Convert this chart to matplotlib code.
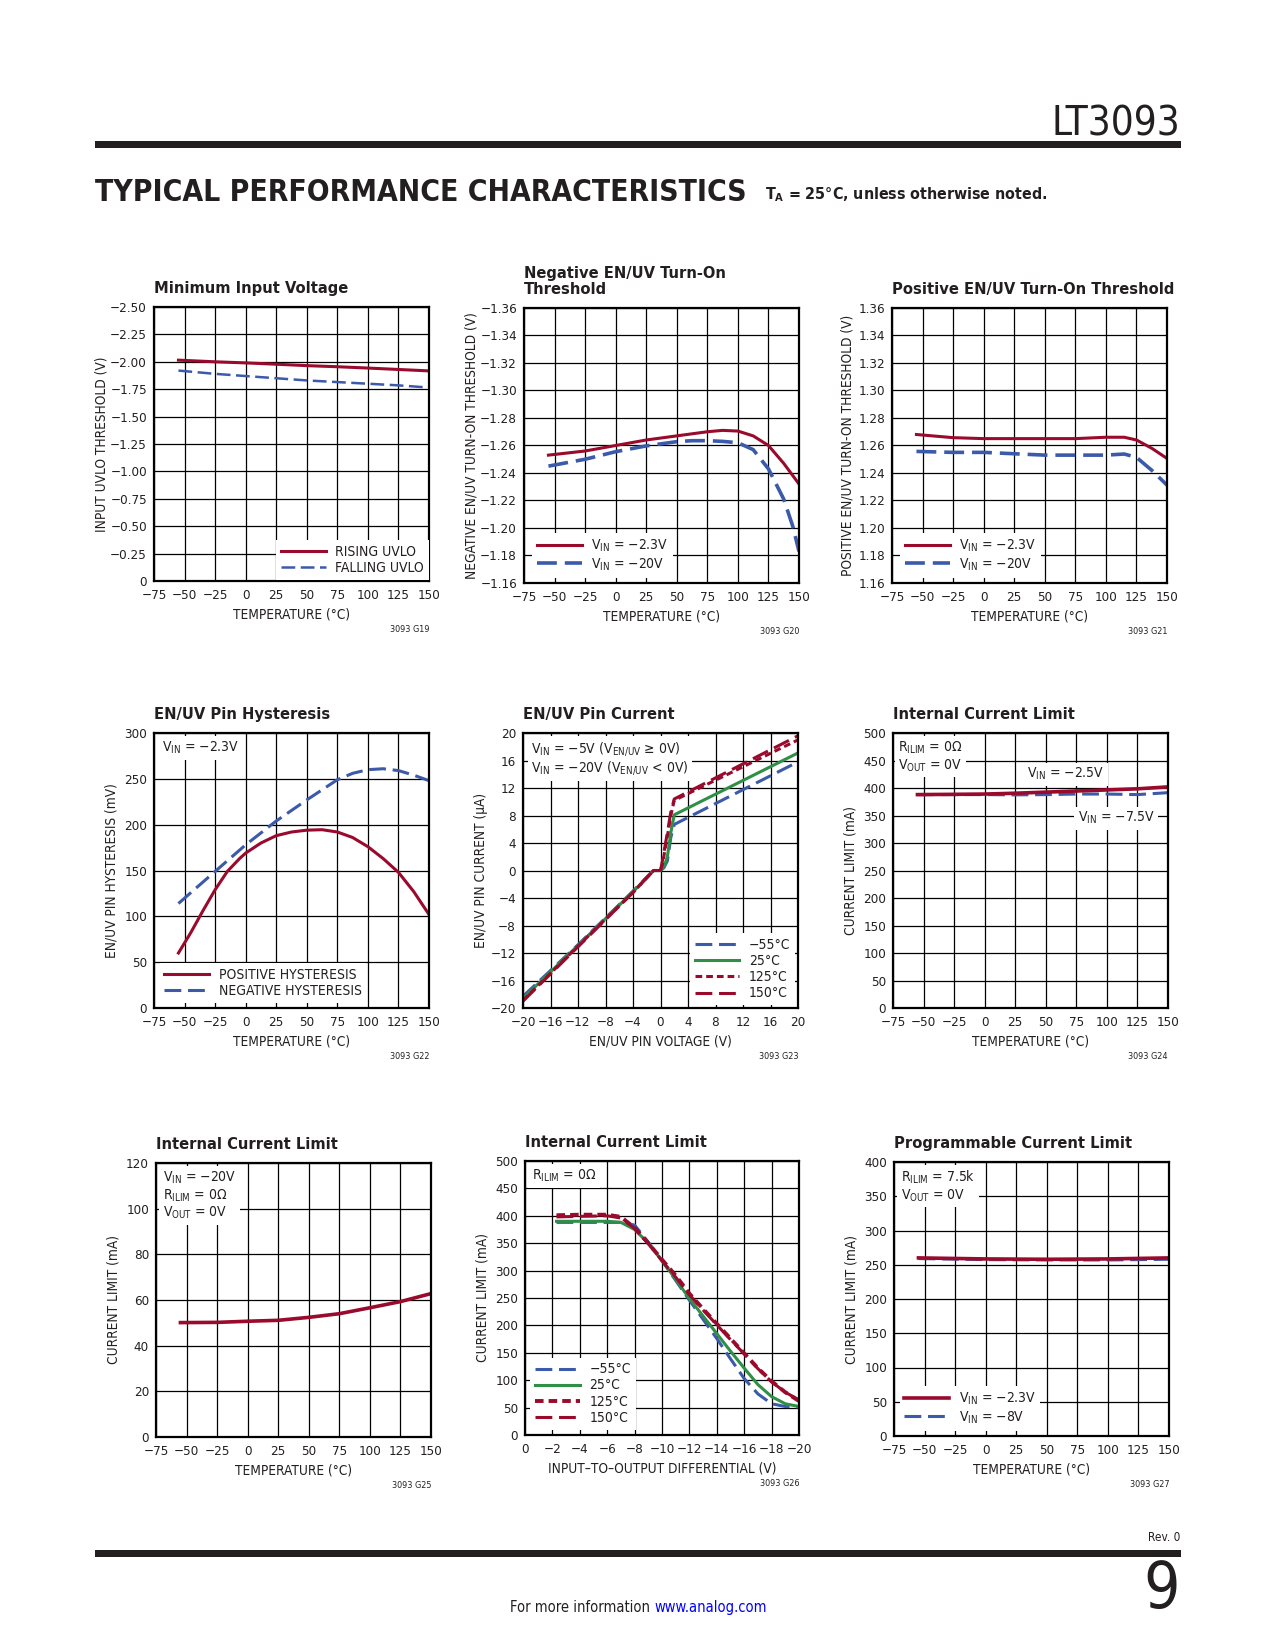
import os
import numpy as np
import matplotlib
matplotlib.use('Agg')
import matplotlib.pyplot as plt
from matplotlib import font_manager as fm
from matplotlib.patches import Rectangle

# ---- data ----
temp_ticks = [-75, -50, -25, 0, 25, 50, 75, 100, 125, 150]

# G19 minimum input voltage
uvlo_t = [-55, -25, 0, 25, 50, 75, 100, 125, 150]
uvlo_rising = [-2.015, -2.00, -1.99, -1.978, -1.965, -1.955, -1.943, -1.93, -1.917]
uvlo_falling = [-1.92, -1.89, -1.87, -1.85, -1.83, -1.815, -1.80, -1.785, -1.765]

# G20 negative EN/UV threshold
neg_t1 = [-55, -25, 0, 25, 50, 75, 87.5, 100, 112.5, 125, 137.5, 150]
neg_vin23 = [-1.253, -1.256, -1.260, -1.264, -1.267, -1.270, -1.271, -1.2705, -1.267, -1.260, -1.247, -1.232]
neg_t2 = [-55, -25, 0, 25, 50, 62.5, 75, 87.5, 100, 112.5, 125, 137.5, 145, 150]
neg_vin20 = [-1.245, -1.250, -1.2555, -1.2597, -1.2628, -1.2635, -1.2635, -1.263, -1.262, -1.257, -1.243, -1.221, -1.201, -1.183]

# G21 positive EN/UV threshold
pos_t = [-55, -25, 0, 25, 50, 75, 100, 115, 125, 137.5, 150]
pos_vin23 = [1.268, 1.2657, 1.265, 1.265, 1.265, 1.265, 1.266, 1.266, 1.264, 1.258, 1.2506]
pos_vin20 = [1.2557, 1.255, 1.255, 1.254, 1.253, 1.253, 1.253, 1.2538, 1.2514, 1.242, 1.2312]

# G22 hysteresis
hys_t1 = [-55, -45, -35, -25, -15, -5, 0, 12.5, 25, 37.5, 50, 62.5, 75, 87.5, 100, 112.5, 125, 137.5, 150]
hys_pos = [60, 82, 106, 129, 149, 163, 169, 180, 188, 192, 194, 194.5, 192, 186, 176, 163, 148, 127, 102]
hys_t2 = [-55, -25, 0, 25, 50, 75, 87.5, 100, 112.5, 125, 137.5, 150]
hys_neg = [114, 149, 178, 204, 227, 249, 256, 260, 261, 259, 254, 248]

# G23 EN/UV pin current
pin_v = [-20, -12, -4, -1, 0, 0.5, 1, 1.5, 2, 20]
pin_v_hot = [-20, -12, -4, -1, 0, 0.3, 1, 1.5, 2, 20]
pin_m55 = [-18.3, -10.8, -3.0, 0.05, 0, 0.4, 1.4, 4.8, 6.7, 15.8]
pin_25 = [-18.6, -10.9, -3.1, 0, 0, 0.5, 2.0, 5.5, 8.1, 17.1]
pin_125 = [-18.9, -11.0, -3.2, 0, 0, 1.0, 5.0, 8.0, 10.2, 19.0]
pin_150 = [-19.0, -11.1, -3.2, 0, 0, 1.5, 5.5, 8.5, 10.4, 19.6]

# G24 internal current limit vs temperature
ilim_t = [-55, -25, 0, 25, 50, 75, 100, 125, 150]
ilim_vin25 = [388, 388.5, 389, 390.5, 392.5, 394.5, 396.5, 398.5, 402]
ilim_vin75 = [388, 388, 388, 387.5, 388, 389, 389, 388, 391.5]

# G25 internal current limit, VIN = -20V
ilim20_t = [-55, -25, 0, 25, 50, 75, 100, 125, 150]
ilim20 = [50.1, 50.2, 50.7, 51.1, 52.4, 54.0, 56.6, 59.3, 62.8]

# G26 current limit vs input-output differential
dif_v = [-2.3, -4, -6, -7, -8, -9, -10, -11, -12, -13, -14, -15, -16, -17, -18, -19, -20]
dif_m55 = [388, 388, 388, 388, 383, 352, 318, 282, 246, 211, 176, 139, 103, 75, 57, 52, 51]
dif_25 = [390, 390, 390, 388, 375, 350, 318, 284, 249, 217, 185, 153, 122, 92, 70, 57, 52]
dif_125 = [401, 402, 402, 398, 378, 350, 320, 291, 258, 230, 203, 176, 149, 122, 98, 78, 62]
dif_150 = [398, 399, 400, 396, 377, 349, 318, 288, 256, 228, 201, 174, 148, 121, 97, 78, 64]

# G27 programmable current limit
prog_t = [-55, 0, 50, 100, 150]
prog_vin23 = [260, 258.5, 258, 258.5, 260]
prog_vin8 = [259, 257.5, 257, 257, 258]

RED = '#990a2c'
BLUE = '#3c5aaa'
GREEN = '#2f8f47'
INK = '#231f20'

# look for a narrow / condensed sans face (datasheet uses a condensed Helvetica)
found = {}
for f in fm.fontManager.ttflist:
    key = (f.name + ' ' + os.path.basename(f.fname)).lower()
    if 'sans' not in key or 'mono' in key or 'oblique' in key or 'italic' in key:
        continue
    if not ('narrow' in key or 'condensed' in key or str(f.stretch).lower() in ('condensed', 'semi-condensed')):
        continue
    kind = 'bold' if 'bold' in key else 'reg'
    rank = 0 if 'liberation' in key else 1
    if kind not in found or rank < found[kind][0]:
        found[kind] = (rank, f.fname)

COND = 'reg' in found
if COND:
    fm.fontManager.ttflist.append(fm.FontEntry(fname=found['reg'][1], name='PageCond', style='normal',
                                               variant='normal', weight=400, stretch='normal',
                                               size='scalable'))
    if 'bold' in found:
        fm.fontManager.ttflist.append(fm.FontEntry(fname=found['bold'][1], name='PageCond', style='normal',
                                                   variant='normal', weight=700, stretch='normal',
                                                   size='scalable'))
    FAM = 'PageCond'
else:
    FAM = 'Liberation Sans'

S = dict(tick=9.6, lab=9.8, title=11.8, leg=10, head=21.5, ta=11.4, foot=10.5) if COND else \
    dict(tick=10, lab=10, title=12.8, leg=10, head=21, ta=12.5, foot=10.6)

plt.rcParams['font.family'] = [FAM, 'DejaVu Sans']
plt.rcParams['mathtext.default'] = 'regular'

W, H = 1275, 1650
fig = plt.figure(figsize=(W / 100, H / 100), dpi=100)


def px_axes(l, t, r, b):
    return fig.add_axes([l / W, 1 - b / H, (r - l) / W, (b - t) / H])


def fmt_num(v, nd):
    if abs(v) < 1e-9:
        return '0'
    return f'{v:.{nd}f}'.replace('-', '\u2212')


def setup(ax, xlim, ylim, xticks, yticks, xdec, ydec, xlabel, ylabel, title, code, ylab_x):
    ax.set_xlim(*xlim)
    ax.set_ylim(*ylim)
    ax.set_xticks(xticks)
    ax.set_yticks(yticks)
    ax.set_xticklabels([fmt_num(v, xdec) for v in xticks])
    ax.set_yticklabels([fmt_num(v, ydec) for v in yticks])
    ax.grid(True, color='black', lw=0.9)
    ax.tick_params(length=0, labelsize=S['tick'], colors=INK)
    ax.tick_params(axis='x', pad=6)
    ax.tick_params(axis='y', pad=5)
    for sp in ax.spines.values():
        sp.set_linewidth(1.6)
    ax.set_xlabel(xlabel, fontsize=S['lab'], color=INK)
    ax.set_ylabel(ylabel, fontsize=S['lab'], color=INK)
    ax.xaxis.set_label_coords(0.5, -0.095)
    ax.yaxis.set_label_coords(ylab_x, 0.5)
    ax.text(0, 1.04, title, transform=ax.transAxes, fontsize=S['title'], fontweight='bold',
            ha='left', va='bottom', linespacing=1.05, color=INK)
    ax.text(1, -0.178, code, transform=ax.transAxes, fontsize=6.5, ha='right', va='center', color=INK)


def leg(ax, loc, anchor, handles=None, labels=None):
    if handles is None:
        handles, labels = ax.get_legend_handles_labels()
    lg = ax.legend(handles, labels, loc=loc, bbox_to_anchor=anchor, fontsize=S['leg'], handlelength=3.2,
                   handletextpad=0.7, labelspacing=0.15, borderpad=0.35, borderaxespad=0,
                   frameon=True, fancybox=False, framealpha=1)
    lg.get_frame().set_linewidth(0)
    for t in lg.get_texts():
        t.set_color(INK)
    return lg


def note(ax, x, y, s, coords='axes'):
    tr = ax.transAxes if coords == 'axes' else ax.transData
    ax.text(x, y, s, transform=tr, fontsize=S['leg'], ha='left', va='top', linespacing=1.1,
            color=INK, bbox=dict(fc='white', ec='none', pad=2.5), zorder=4)


LW = 2.2
DASH = (5.5, 2.2)
SHORT = (2.2, 1.3)
TEMP = 'TEMPERATURE (\u00b0C)'

# ---- row 1 ----
ax = px_axes(154, 307, 429, 581)
setup(ax, (-75, 150), (0, -2.5), temp_ticks, np.arange(0, -2.51, -0.25), 0, 2,
      TEMP, 'INPUT UVLO THRESHOLD (V)', 'Minimum Input Voltage', '3093 G19', -0.167)
ax.plot(uvlo_t, uvlo_rising, color=RED, lw=LW, label='RISING UVLO')
ax.plot(uvlo_t, uvlo_falling, color=BLUE, lw=LW - 0.4, dashes=DASH, label='FALLING UVLO')
leg(ax, 'lower right', (1.0, 0.005))

ax = px_axes(524, 308, 799, 583)
setup(ax, (-75, 150), (-1.16, -1.36), temp_ticks, np.arange(-1.16, -1.3601, -0.02), 0, 2,
      TEMP, 'NEGATIVE EN/UV TURN-ON THRESHOLD (V)', 'Negative EN/UV Turn-On\nThreshold',
      '3093 G20', -0.167)
ax.plot(neg_t1, neg_vin23, color=RED, lw=LW, label='V$_{IN}$ = \u22122.3V')
ax.plot(neg_t2, neg_vin20, color=BLUE, lw=LW + 0.4, dashes=DASH, label='V$_{IN}$ = \u221220V')
leg(ax, 'lower left', (0.03, 0.02))

ax = px_axes(892, 308, 1167, 583)
setup(ax, (-75, 150), (1.16, 1.36), temp_ticks, np.arange(1.16, 1.3601, 0.02), 0, 2,
      TEMP, 'POSITIVE EN/UV TURN-ON THRESHOLD (V)', 'Positive EN/UV Turn-On Threshold',
      '3093 G21', -0.138)
ax.plot(pos_t, pos_vin23, color=RED, lw=LW, label='V$_{IN}$ = \u22122.3V')
ax.plot(pos_t, pos_vin20, color=BLUE, lw=LW + 0.4, dashes=DASH, label='V$_{IN}$ = \u221220V')
leg(ax, 'lower left', (0.03, 0.02))

# ---- row 2 ----
ax = px_axes(154, 733, 429, 1008)
setup(ax, (-75, 150), (0, 300), temp_ticks, np.arange(0, 301, 50), 0, 0,
      TEMP, 'EN/UV PIN HYSTERESIS (mV)', 'EN/UV Pin Hysteresis', '3093 G22', -0.13)
ax.plot(hys_t1, hys_pos, color=RED, lw=LW, label='POSITIVE HYSTERESIS')
ax.plot(hys_t2, hys_neg, color=BLUE, lw=LW, dashes=DASH, label='NEGATIVE HYSTERESIS')
leg(ax, 'lower left', (0.02, 0.02))
note(ax, 0.03, 0.975, 'V$_{IN}$ = \u22122.3V')

ax = px_axes(523, 733, 798, 1008)
setup(ax, (-20, 20), (-20, 20), np.arange(-20, 21, 4), np.arange(-20, 21, 4), 0, 0,
      'EN/UV PIN VOLTAGE (V)', 'EN/UV PIN CURRENT (\u00b5A)', 'EN/UV Pin Current', '3093 G23', -0.127)
ax.plot(pin_v, pin_m55, color=BLUE, lw=LW, dashes=DASH, label='\u221255\u00b0C')
ax.plot(pin_v, pin_25, color=GREEN, lw=LW, label='25\u00b0C')
ax.plot(pin_v_hot, pin_125, color=RED, lw=LW, dashes=SHORT, label='125\u00b0C')
ax.plot(pin_v_hot, pin_150, color=RED, lw=LW, dashes=DASH, label='150\u00b0C')
leg(ax, 'lower right', (0.99, 0.01))
note(ax, 0.03, 0.975, 'V$_{IN}$ = \u22125V (V$_{EN/UV}$ \u2265 0V)\nV$_{IN}$ = \u221220V (V$_{EN/UV}$ < 0V)')

ax = px_axes(893, 733, 1168, 1008)
setup(ax, (-75, 150), (0, 500), temp_ticks, np.arange(0, 501, 50), 0, 0,
      TEMP, 'CURRENT LIMIT (mA)', 'Internal Current Limit', '3093 G24', -0.13)
ax.plot(ilim_t, ilim_vin75, color=BLUE, lw=LW, dashes=DASH)
ax.plot(ilim_t, ilim_vin25, color=RED, lw=LW + 0.4)
note(ax, 0.02, 0.975, 'R$_{ILIM}$ = 0\u03a9\nV$_{OUT}$ = 0V')
note(ax, 35, 440, 'V$_{IN}$ = \u22122.5V', coords='data')
note(ax, 76, 360, 'V$_{IN}$ = \u22127.5V', coords='data')

# ---- row 3 ----
ax = px_axes(156, 1163, 431, 1437)
setup(ax, (-75, 150), (0, 120), temp_ticks, np.arange(0, 121, 20), 0, 0,
      TEMP, 'CURRENT LIMIT (mA)', 'Internal Current Limit', '3093 G25', -0.13)
ax.plot(ilim20_t, ilim20, color=RED, lw=LW + 0.4)
note(ax, 0.025, 0.975, 'V$_{IN}$ = \u221220V\nR$_{ILIM}$ = 0\u03a9\nV$_{OUT}$ = 0V')

ax = px_axes(525, 1161, 799, 1435)
setup(ax, (0, -20), (0, 500), np.arange(0, -21, -2), np.arange(0, 501, 50), 0, 0,
      'INPUT\u2013TO\u2013OUTPUT DIFFERENTIAL (V)', 'CURRENT LIMIT (mA)', 'Internal Current Limit',
      '3093 G26', -0.13)
ax.plot(dif_v, dif_m55, color=BLUE, lw=LW, dashes=DASH, label='\u221255\u00b0C')
ax.plot(dif_v, dif_25, color=GREEN, lw=LW, label='25\u00b0C')
ax.plot(dif_v, dif_125, color=RED, lw=LW + 0.6, dashes=SHORT, label='125\u00b0C')
ax.plot(dif_v, dif_150, color=RED, lw=LW, dashes=DASH, label='150\u00b0C')
leg(ax, 'lower left', (0.02, 0.02))
note(ax, 0.025, 0.975, 'R$_{ILIM}$ = 0\u03a9')

ax = px_axes(894, 1162, 1169, 1436)
setup(ax, (-75, 150), (0, 400), temp_ticks, np.arange(0, 401, 50), 0, 0,
      TEMP, 'CURRENT LIMIT (mA)', 'Programmable Current Limit', '3093 G27', -0.13)
ax.plot(prog_t, prog_vin8, color=BLUE, lw=LW, dashes=DASH, label='V$_{IN}$ = \u22128V')
ax.plot(prog_t, prog_vin23, color=RED, lw=LW + 0.4, label='V$_{IN}$ = \u22122.3V')
h, l = ax.get_legend_handles_labels()
leg(ax, 'lower left', (0.02, 0.02), h[::-1], l[::-1])
note(ax, 0.025, 0.975, 'R$_{ILIM}$ = 7.5k\nV$_{OUT}$ = 0V')

# ---- page header / footer ----
fig.text(1180 / W, 1 - 135 / H, 'LT3093', fontsize=29, ha='right', va='baseline', color=INK)
fig.add_artist(Rectangle((95 / W, 1 - 148 / H), 1086 / W, 7 / H, transform=fig.transFigure,
                         color=INK, lw=0))
fig.text(95 / W, 1 - 201 / H, 'TYPICAL PERFORMANCE CHARACTERISTICS', fontsize=S['head'],
         fontweight='bold', ha='left', va='baseline', color=INK)
fig.text(765 / W, 1 - 199 / H, 'T$_A$ = 25\u00b0C, unless otherwise noted.', fontsize=S['ta'],
         fontweight='bold', ha='left', va='baseline', color=INK)

fig.text(1180 / W, 1 - 1541 / H, 'Rev. 0', fontsize=8.5, ha='right', va='baseline', color=INK)
fig.add_artist(Rectangle((95 / W, 1 - 1557 / H), 1086 / W, 7 / H, transform=fig.transFigure,
                         color=INK, lw=0))
fig.text(1180 / W, 1 - 1608 / H, '9', fontsize=46, ha='right', va='baseline', color=INK)
fig.text(654 / W, 1 - 1612 / H, 'For more information ', fontsize=S['foot'], ha='right', va='baseline',
         color=INK)
fig.text(654 / W, 1 - 1612 / H, 'www.analog.com', fontsize=S['foot'], ha='left', va='baseline',
         color='#0000ff')

fig.savefig('out.png', dpi=100, facecolor='white')
